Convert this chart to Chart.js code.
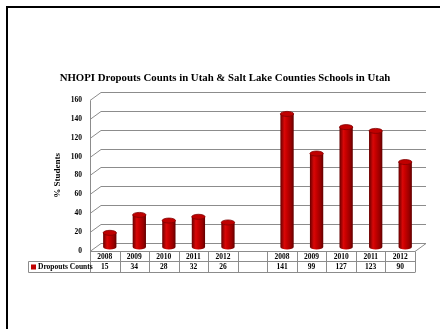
<!DOCTYPE html>
<html>
<head>
<meta charset="utf-8">
<script src="https://cdn.jsdelivr.net/npm/chart.js@4.4.1/dist/chart.umd.min.js"></script>
<style>
html,body{margin:0;padding:0;background:#fff;}
canvas{display:block;}
</style>
</head>
<body>
<canvas id="c" width="440" height="329"></canvas>
<script>
const categories = ['2008','2009','2010','2011','2012','','2008','2009','2010','2011','2012'];
const dropoutCounts = [15, 34, 28, 32, 26, null, 141, 99, 127, 123, 90];
const seriesName = 'Dropouts Counts';
const titleText = 'NHOPI Dropouts Counts in Utah & Salt Lake Counties Schools in Utah';
const yTitle = '% Students';
const yMin = 0, yMax = 160, yStep = 20;

const DX = 11, DY = 8;      // wall depth
const BX = 5, BY = -4;      // bar depth offset
const SERIF = '"Liberation Serif", "Times New Roman", serif';

function barGradient(ctx2d, x, w) {
  const g = ctx2d.createLinearGradient(x - w/2, 0, x + w/2, 0);
  g.addColorStop(0, '#660000');
  g.addColorStop(0.3, '#d80808');
  g.addColorStop(0.45, '#cc0000');
  g.addColorStop(0.8, '#980000');
  g.addColorStop(1, '#600000');
  return g;
}

const scene = {
  id: 'scene',
  beforeDraw(chart) {
    const c = chart.ctx;
    c.save();
    c.fillStyle = '#000';
    c.fillRect(6, 6, 434, 2);
    c.fillRect(6, 6, 2, 323);
    c.restore();
  },
  beforeDatasetsDraw(chart) {
    const c = chart.ctx, a = chart.chartArea, y = chart.scales.y;
    c.save();
    c.strokeStyle = '#8c8c8c';
    c.lineWidth = 1;
    y.ticks.forEach(t => {
      const py = Math.round(y.getPixelForValue(t.value)) + 0.5;
      c.beginPath();
      c.moveTo(a.left, py);
      c.lineTo(a.left + DX, py - DY);
      c.lineTo(a.right + DX, py - DY);
      c.stroke();
    });
    const y0 = Math.round(y.getPixelForValue(0)) + 0.5;
    const yt = Math.round(y.getPixelForValue(yMax)) + 0.5;
    c.beginPath();
    c.moveTo(a.left + 0.5, yt);
    c.lineTo(a.left + 0.5, y0);
    c.moveTo(a.right, y0);
    c.lineTo(a.right + DX, y0 - DY);
    c.stroke();
    c.restore();
  },
  beforeDatasetDraw(chart) {
    chart.ctx.save();
    chart.ctx.translate(BX, BY);
  },
  afterDatasetDraw(chart) {
    const c = chart.ctx;
    const meta = chart.getDatasetMeta(0);
    meta.data.forEach((el, i) => {
      if (dropoutCounts[i] == null) return;
      const w = el.width, rx = w/2, ry = 2.5;
      c.fillStyle = barGradient(c, el.x, w);
      c.beginPath();
      c.ellipse(el.x, el.base, rx, ry, 0, 0, Math.PI);
      c.fill();
      c.beginPath();
      c.ellipse(el.x, el.y, rx, ry, 0, 0, Math.PI*2);
      c.fillStyle = '#c00000';
      c.fill();
      c.strokeStyle = '#800000';
      c.lineWidth = 0.8;
      c.stroke();
    });
    c.restore();
  },
  afterDraw(chart) {
    const c = chart.ctx, a = chart.chartArea, x = chart.scales.x, y = chart.scales.y;
    const y0 = Math.round(y.getPixelForValue(0)) + 0.5;
    const colW = (a.right - a.left) / categories.length;
    const r1 = y0, r2 = y0 + 10, r3 = y0 + 21;
    const legL = 28.5;
    c.save();
    c.strokeStyle = '#8c8c8c';
    c.lineWidth = 1;
    c.beginPath();
    c.moveTo(a.left, r1); c.lineTo(a.right, r1);
    c.moveTo(legL, r2); c.lineTo(a.right, r2);
    c.moveTo(legL, r3); c.lineTo(a.right, r3);
    c.moveTo(legL, r2); c.lineTo(legL, r3);
    for (let i = 0; i <= categories.length; i++) {
      const px = Math.round(a.left + i*colW) + 0.5;
      c.moveTo(px, r1); c.lineTo(px, r3);
    }
    c.stroke();
    c.fillStyle = '#000';
    c.font = 'bold 7.5px ' + SERIF;
    c.textAlign = 'center';
    c.textBaseline = 'middle';
    categories.forEach((lab, i) => {
      const px = x.getPixelForValue(i);
      c.fillText(lab, px, (r1 + r2)/2 + 0.5);
      const v = dropoutCounts[i];
      if (v != null) c.fillText(String(v), px, (r2 + r3)/2 + 0.5);
    });
    c.fillStyle = '#c00000';
    c.fillRect(31, r2 + 3, 5, 5);
    c.fillStyle = '#000';
    c.textAlign = 'left';
    c.fillText(seriesName, 38, (r2 + r3)/2 + 0.5);
    c.restore();
  }
};

new Chart(document.getElementById('c'), {
  type: 'bar',
  data: {
    labels: categories,
    datasets: [{
      label: seriesName,
      data: dropoutCounts,
      backgroundColor: (ctx) => {
        const chart = ctx.chart;
        const xs = chart.scales.x;
        if (!xs || !chart.chartArea) return '#c00000';
        const colW = (chart.chartArea.right - chart.chartArea.left) / categories.length;
        const px = xs.getPixelForValue(ctx.dataIndex);
        return barGradient(chart.ctx, px, colW * 0.45);
      },
      borderWidth: 0,
      categoryPercentage: 1,
      barPercentage: 0.45
    }]
  },
  options: {
    responsive: false,
    animation: false,
    layout: { padding: { left: 35, right: 25, top: 0, bottom: 78 } },
    plugins: {
      legend: { display: false },
      tooltip: { enabled: false },
      title: {
        display: true,
        text: titleText,
        color: '#000',
        font: { family: SERIF, size: 10.8, weight: 'bold' },
        padding: { top: 72, bottom: 15 }
      }
    },
    scales: {
      x: { display: false, offset: true },
      y: {
        min: yMin, max: yMax,
        ticks: { stepSize: yStep, color: '#000', font: { family: SERIF, size: 7.5, weight: 'bold' }, padding: 0 },
        grid: { display: false },
        border: { display: false },
        title: { display: true, text: yTitle, color: '#000', font: { family: SERIF, size: 9, weight: 'bold' }, padding: { top: 17, bottom: 0 } },
        afterFit(scale) { scale.width = 55; }
      }
    }
  },
  plugins: [scene]
});
</script>
</body>
</html>
